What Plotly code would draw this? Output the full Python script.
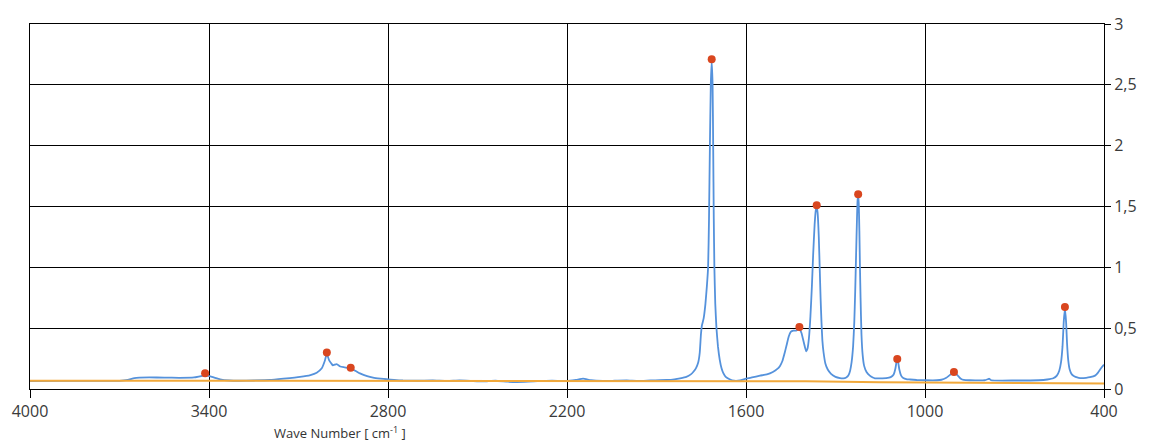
import plotly.graph_objects as go

# Spectrum (wave number, intensity)
wave = [4000, 3900, 3800, 3700, 3672, 3650, 3600, 3550, 3500, 3450, 3413, 3390, 3363, 3330,
        3300, 3250, 3196, 3150, 3095, 3060, 3039, 3022, 3012, 3005, 2998, 2990, 2985, 2972,
        2960, 2945, 2925, 2910, 2894, 2870, 2850, 2825, 2804, 2780, 2750, 2700, 2650, 2600,
        2560, 2520, 2480, 2440, 2400, 2368, 2330, 2290, 2250, 2200, 2170, 2146, 2120, 2080,
        2040, 2000, 1960, 1920, 1866, 1840, 1821, 1800, 1785, 1777, 1768, 1760, 1755, 1751,
        1748, 1742, 1736, 1731, 1727, 1724, 1721, 1718, 1715, 1712, 1710, 1708, 1706, 1703,
        1699, 1694, 1688, 1682, 1676, 1668, 1655, 1640, 1620, 1600, 1580, 1553, 1530, 1510,
        1495, 1486, 1478, 1470, 1464, 1457, 1450, 1441, 1432, 1425, 1420, 1414, 1408, 1402,
        1398, 1394, 1389, 1384, 1379, 1375, 1370, 1366, 1363, 1360, 1356, 1353, 1350, 1347,
        1344, 1340, 1334, 1326, 1315, 1300, 1285, 1274, 1264, 1257, 1251, 1246, 1241, 1237,
        1234, 1231, 1228, 1226, 1224, 1222, 1220, 1218, 1216, 1213, 1209, 1204, 1196, 1185,
        1175, 1168, 1151, 1130, 1115, 1105, 1099, 1095, 1093, 1090, 1086, 1080, 1073, 1060,
        1050, 1028, 1000, 960, 945, 930, 918, 910, 903, 896, 888, 880, 870, 850, 800, 790,
        785, 778, 700, 620, 590, 570, 558, 550, 544, 539, 535, 531, 527, 524, 520, 515, 508,
        500, 490, 480, 460, 447, 430, 420, 410, 400]
intensity = [0.065, 0.066, 0.066, 0.067, 0.075, 0.09, 0.095, 0.094, 0.092, 0.095, 0.112, 0.1,
             0.08, 0.07, 0.068, 0.07, 0.074, 0.085, 0.10, 0.115, 0.134, 0.17, 0.23, 0.29, 0.24,
             0.21, 0.195, 0.205, 0.185, 0.178, 0.168, 0.15, 0.128, 0.105, 0.093, 0.085, 0.08,
             0.075, 0.07, 0.068, 0.07, 0.066, 0.07, 0.066, 0.062, 0.068, 0.06, 0.057, 0.06,
             0.066, 0.068, 0.065, 0.075, 0.085, 0.072, 0.066, 0.068, 0.07, 0.066, 0.07, 0.074,
             0.08, 0.088, 0.1, 0.12, 0.14, 0.17, 0.22, 0.3, 0.45, 0.52, 0.58, 0.7, 0.85, 1.0,
             1.4, 2.0, 2.5, 2.69, 2.5, 2.0, 1.4, 1.0, 0.7, 0.5, 0.35, 0.24, 0.17, 0.13, 0.1,
             0.08, 0.068, 0.07, 0.085, 0.095, 0.11, 0.12, 0.14, 0.165, 0.19, 0.23, 0.3, 0.36,
             0.43, 0.47, 0.48, 0.48, 0.49, 0.49, 0.46, 0.4, 0.34, 0.31, 0.33, 0.42, 0.6, 0.85,
             1.1, 1.35, 1.47, 1.5, 1.45, 1.25, 1.0, 0.75, 0.55, 0.4, 0.3, 0.21, 0.16, 0.125,
             0.1, 0.09, 0.088, 0.095, 0.11, 0.15, 0.22, 0.35, 0.55, 0.8, 1.1, 1.4, 1.55, 1.6,
             1.52, 1.3, 1.0, 0.75, 0.45, 0.28, 0.19, 0.14, 0.11, 0.095, 0.088, 0.088, 0.09,
             0.098, 0.12, 0.17, 0.23, 0.24, 0.22, 0.16, 0.11, 0.09, 0.08, 0.078, 0.074, 0.072,
             0.072, 0.076, 0.09, 0.112, 0.128, 0.135, 0.125, 0.105, 0.085, 0.075, 0.072, 0.072,
             0.08, 0.085, 0.072, 0.07, 0.072, 0.078, 0.088, 0.11, 0.15, 0.22, 0.35, 0.55, 0.66,
             0.55, 0.38, 0.24, 0.16, 0.12, 0.105, 0.095, 0.09, 0.092, 0.097, 0.11, 0.135, 0.17,
             0.2]

# Baseline
base_wave = [4000, 2200, 1400, 1150, 400]
base_val = [0.068, 0.068, 0.064, 0.055, 0.046]

# Detected peaks
peak_wave = [3413, 3005, 2925, 1715, 1421, 1363, 1224, 1093, 903, 531]
peak_val = [0.13, 0.30, 0.175, 2.71, 0.51, 1.51, 1.60, 0.246, 0.14, 0.675]

x_ticks = [4000, 3400, 2800, 2200, 1600, 1000, 400]
y_ticks = [0, 0.5, 1, 1.5, 2, 2.5, 3]

fig = go.Figure()
fig.add_trace(go.Scatter(x=wave, y=intensity, mode="lines",
                         line=dict(color="#5592dc", width=1.8, shape="spline", smoothing=0.4),
                         hoverinfo="skip"))
fig.add_trace(go.Scatter(x=base_wave, y=base_val, mode="lines",
                         line=dict(color="#f2a93b", width=2), hoverinfo="skip"))
fig.add_trace(go.Scatter(x=peak_wave, y=peak_val, mode="markers",
                         marker=dict(color="#d9461f", size=8), hoverinfo="skip"))

axis_font = dict(family="Open Sans, Noto Sans, sans-serif", size=16, color="#3a3a3a")
fig.update_layout(
    width=1152, height=444,
    margin=dict(l=30, r=48, t=24, b=55),
    paper_bgcolor="white", plot_bgcolor="white",
    showlegend=False,
    separators=",.",
    xaxis=dict(range=[4000, 400], tickvals=x_ticks, ticks="outside", ticklen=8,
               tickcolor="black", showgrid=True, gridcolor="black", gridwidth=1,
               showline=True, linecolor="black", linewidth=1, mirror=True,
               zeroline=False, tickfont=axis_font),
    yaxis=dict(range=[0, 3], tickvals=y_ticks, side="right", ticks="outside", ticklen=6,
               tickcolor="black", showgrid=True, gridcolor="black", gridwidth=1,
               showline=True, linecolor="black", linewidth=1, mirror=True,
               zeroline=False, tickfont=axis_font),
    annotations=[dict(text="Wave Number [ cm<sup>-1</sup> ]", xref="paper", yref="paper",
                      x=0.289, y=-0.118, xanchor="center", yanchor="middle", showarrow=False,
                      font=dict(family="Open Sans, Noto Sans, sans-serif", size=13,
                                color="#333333"))],
)
fig.write_html("out.html")
